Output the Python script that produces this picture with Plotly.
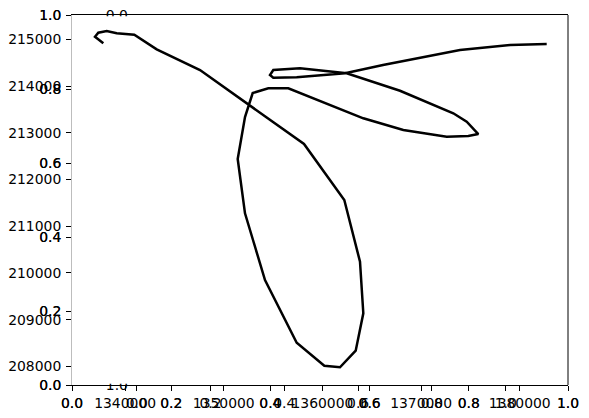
import plotly.graph_objects as go

# ---- data (projected coordinates of the track) ----
track_x = [1337793, 1336951, 1337286, 1338137, 1339151, 1340934, 1343205, 1347593,
           1358134, 1362218, 1363809, 1364144, 1363373, 1361782, 1360191, 1357394,
           1354181, 1352154, 1351414, 1352154, 1352934, 1354515, 1356542, 1364144,
           1368198, 1372596, 1374785, 1375799, 1374623, 1373265, 1367863, 1362461,
           1357728, 1355022, 1354688, 1355022, 1357394, 1362289, 1366140, 1373944,
           1379012, 1382731]
track_y = [214913, 215054, 215140, 215176, 215127, 215097, 214785, 214342,
           212759, 211561, 210242, 209138, 208338, 207983, 208017, 208509,
           209850, 211277, 212438, 213337, 213850, 213951, 213951, 213309,
           213059, 212915, 212930, 212973, 213236, 213416, 213899, 214272,
           214378, 214342, 214235, 214177, 214186, 214272, 214449, 214770,
           214877, 214898]

x_ticks = [1340000, 1350000, 1360000, 1370000, 1380000]
y_ticks = [208000, 209000, 210000, 211000, 212000, 213000, 214000, 215000]
unit_ticks = [0.0, 0.2, 0.4, 0.6, 0.8, 1.0]
unit_labels = ["0.0", "0.2", "0.4", "0.6", "0.8", "1.0"]
img_y_ticks = [0.0, 1.0]
img_y_labels = ["0.0", "1.0"]

FONT = dict(family="DejaVu Sans", size=13.9, color="black")
W, H = 589, 418
L, R, T, B = 72, 21, 15, 33
PW, PH = W - L - R, H - T - B


def px_x(p):
    return (p - L) / PW


def px_y(p):
    return (H - B - p) / PH


fig = go.Figure()
fig.add_trace(go.Scatter(x=track_x, y=track_y, mode="lines",
                         line=dict(color="black", width=2.5),
                         xaxis="x", yaxis="y", showlegend=False, hoverinfo="skip"))
for xa, ya in [("x2", "y2"), ("x3", "y3"), ("x4", "y4")]:
    fig.add_trace(go.Scatter(x=[], y=[], xaxis=xa, yaxis=ya, showlegend=False))

x_common = dict(ticks="outside", ticklen=5, tickwidth=1, tickcolor="black",
                showgrid=False, zeroline=False, tickfont=FONT, tickangle=0,
                ticklabelstandoff=0, automargin=False)
y_common = dict(x_common, ticklabelstandoff=2)

layout = dict(
    width=W, height=H,
    margin=dict(l=L, r=R, t=T, b=B, pad=0, autoexpand=False),
    paper_bgcolor="white", plot_bgcolor="rgba(0,0,0,0)",
    showlegend=False,
    xaxis=dict(domain=[0, 1], range=[1334620, 1384890], tickvals=x_ticks,
               tickformat="d", showline=True, mirror=True, linecolor="black",
               linewidth=1, anchor="y", **x_common),
    yaxis=dict(domain=[0, 1], range=[207604, 215519], tickvals=y_ticks,
               tickformat="d", showline=True, linecolor="#bdbdbd", linewidth=1,
               anchor="x", **y_common),
    xaxis2=dict(overlaying="x", range=[0, 1], tickvals=unit_ticks, ticktext=unit_labels,
                showline=False, anchor="y2", side="bottom", **x_common),
    yaxis2=dict(overlaying="y", range=[0, 1], tickvals=unit_ticks, ticktext=unit_labels,
                showline=False, anchor="x2", side="left", **y_common),
    xaxis4=dict(overlaying="x", range=[0, 1], tickvals=unit_ticks, ticktext=unit_labels,
                showline=False, anchor="y4", side="bottom", **x_common),
    yaxis4=dict(overlaying="y", range=[0, 1], tickvals=unit_ticks, ticktext=unit_labels,
                showline=False, anchor="x4", side="left", **y_common),
    xaxis3=dict(domain=[px_x(136.7), px_x(505.7)], range=[0, 1], tickvals=unit_ticks,
                ticktext=unit_labels, showline=False, anchor="y3", **x_common),
    yaxis3=dict(domain=[0, 1], range=[1, 0], tickvals=img_y_ticks, ticktext=img_y_labels,
                showline=False, anchor="x3", ticks="outside", ticklen=5,
                tickcolor="rgba(0,0,0,0)", showgrid=False, zeroline=False, tickfont=FONT,
                ticklabelstandoff=0, automargin=False),
    shapes=[
        dict(type="line", xref="paper", yref="paper", x0=1, x1=1, y0=0, y1=1,
             line=dict(color="black", width=1), layer="above"),
        dict(type="rect", xref="paper", yref="paper", x0=px_x(98), x1=px_x(134),
             y0=px_y(23.5), y1=px_y(16.3), fillcolor="white", line=dict(width=0),
             layer="above"),
        dict(type="rect", xref="paper", yref="paper", x0=px_x(98), x1=px_x(134),
             y0=px_y(383.8), y1=px_y(376), fillcolor="white", line=dict(width=0),
             layer="above"),
    ],
)
fig.update_layout(**layout)
fig.write_html("out.html")
